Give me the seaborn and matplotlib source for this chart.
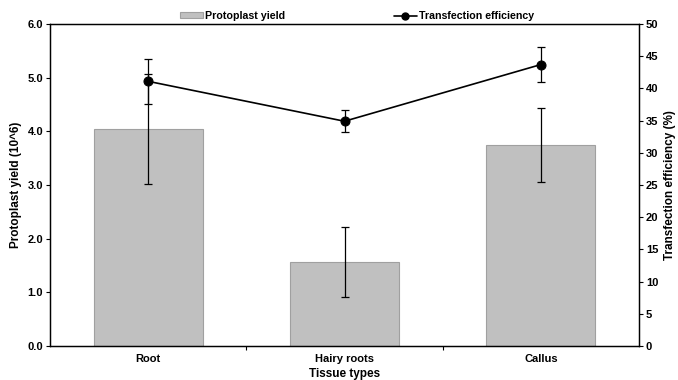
import matplotlib
matplotlib.use("Agg")
import matplotlib.pyplot as plt
import seaborn as sns
import pandas as pd
from matplotlib.patches import Patch
from matplotlib.lines import Line2D

categories = ["Root", "Hairy roots", "Callus"]
yield_vals = [4.04, 1.57, 3.75]
yield_err = [1.02, 0.65, 0.69]
eff_vals = [41.1, 34.9, 43.7]
eff_err = [3.5, 1.7, 2.75]

sns.set_style("ticks")
plt.rcParams["font.family"] = ["Liberation Sans", "DejaVu Sans"]
plt.rcParams["font.weight"] = "bold"
plt.rcParams["text.color"] = "black"
plt.rcParams["axes.labelcolor"] = "black"
plt.rcParams["xtick.color"] = "black"
plt.rcParams["ytick.color"] = "black"
plt.rcParams["axes.edgecolor"] = "black"

fig = plt.figure(figsize=(6.78, 3.80), dpi=100)
ax = fig.add_axes([50/678, 34/380, 589/678, 322/380])

df = pd.DataFrame({"Tissue": categories, "Yield": yield_vals})
sns.barplot(data=df, x="Tissue", y="Yield", color="#c0c0c0", saturation=1,
            errorbar=None, width=0.555, edgecolor="#a0a0a0", linewidth=0.8, ax=ax)
pos = list(range(len(categories)))
ax.errorbar(pos, yield_vals, yerr=yield_err, fmt="none", ecolor="black",
            elinewidth=0.9, capsize=3, capthick=0.9, zorder=3)

ax.set_xlim(-0.5, 2.5)
ax.set_ylim(0, 6)
ax.set_yticks([0, 1, 2, 3, 4, 5, 6])
ax.set_yticklabels([f"{v:.1f}" for v in [0, 1, 2, 3, 4, 5, 6]])
ax.set_xticks(pos)
ax.set_xticklabels(categories)
ax.set_xticks([0.5, 1.5], minor=True)
ax.tick_params(axis="x", which="major", length=0, pad=6, labelsize=8)
ax.tick_params(axis="x", which="minor", length=3, width=0.8, direction="out")
ax.tick_params(axis="y", length=3, width=0.8, direction="out", labelsize=8, pad=2)
ax.set_xlabel("Tissue types", fontsize=8.5, fontweight="bold", labelpad=3)
ax.set_ylabel("Protoplast yield (10^6)", fontsize=8.5, fontweight="bold", labelpad=4)
for s in ax.spines.values():
    s.set_linewidth(0.9)

ax2 = ax.twinx()
sns.lineplot(x=pos, y=eff_vals, color="black", marker="o", markersize=6.5,
             markeredgecolor="black", linewidth=1.2, ax=ax2, zorder=4)
ax2.errorbar(pos, eff_vals, yerr=eff_err, fmt="none", ecolor="black",
             elinewidth=0.9, capsize=3, capthick=0.9, zorder=3)
ax2.set_ylim(0, 50)
ax2.set_yticks(range(0, 51, 5))
ax2.tick_params(axis="y", length=3, width=0.8, direction="out", labelsize=8, pad=2)
ax2.set_ylabel("Transfection efficiency (%)", fontsize=8.5, fontweight="bold", labelpad=4)
for s in ax2.spines.values():
    s.set_linewidth(0.9)
ax2.set_xlim(-0.5, 2.5)

for lab in ax.get_xticklabels() + ax.get_yticklabels() + ax2.get_yticklabels():
    lab.set_fontweight("bold")

handles = [Patch(facecolor="#c0c0c0", edgecolor="#a0a0a0", linewidth=0.8),
           Line2D([0], [0], color="black", marker="o", markersize=5, linewidth=1.2)]
fig.legend(handles, ["Protoplast yield", "Transfection efficiency"], ncol=2,
           loc="center", bbox_to_anchor=(357/678, 1 - 16/380), frameon=False,
           prop={"size": 7.7, "weight": "bold"}, columnspacing=10.1,
           handlelength=2.2, handletextpad=0.2, handleheight=0.5)

fig.savefig("out.png", dpi=100)
